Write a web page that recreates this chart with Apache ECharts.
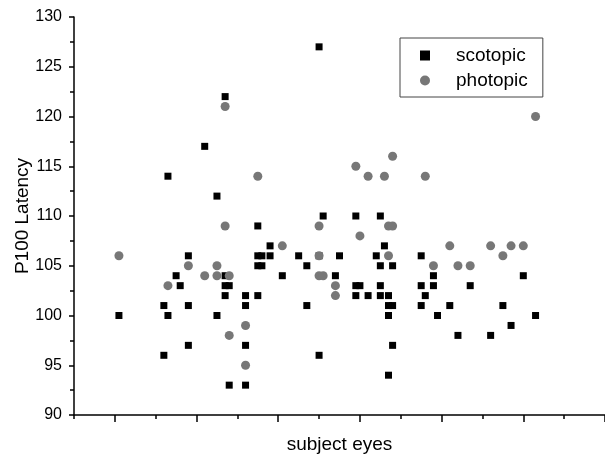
<!DOCTYPE html>
<html>
<head>
<meta charset="utf-8">
<script src="https://cdn.jsdelivr.net/npm/echarts@6/dist/echarts.min.js"></script>
<style>html,body{margin:0;padding:0;background:#fff}#c{width:605px;height:462px}</style>
</head>
<body>
<div id="c"></div>
<script>
// subject-eye index and P100 latency for each series
const scotopicX = [11,22,22,23,23,25,26,28,28,28,32,35,35,37,37,37,37,38,38,42,42,42,42,45,45,45,45,46,46,48,48,51,55,57,57,60,60,60,61,64,65,69,69,69,70,72,74,75,75,75,75,76,77,77,77,77,78,78,78,85,85,85,86,88,88,89,92,94,97,102,105,107,110,113];
const scotopicY = [100,101,96,114,100,104,103,106,101,97,117,112,100,122,104,103,102,103,93,102,101,97,93,109,106,105,102,106,105,107,106,104,106,105,101,127,106,96,110,104,106,110,103,102,103,102,106,110,105,103,102,107,102,101,100,94,105,101,97,106,103,101,102,104,103,100,101,98,103,98,101,99,104,100];
const photopicX = [11,23,28,32,35,35,37,37,38,38,42,42,45,51,60,60,60,61,64,64,69,70,72,76,77,77,78,78,86,88,92,94,97,102,105,107,110,113];
const photopicY = [106,103,105,104,105,104,121,109,104,98,99,95,114,107,109,106,104,104,103,102,115,108,114,114,109,106,116,109,114,105,107,105,105,107,106,107,107,120];
const yTicks = {min: 90, max: 130, interval: 5};
const xMajorTicks = [10, 30, 50, 70, 90, 110, 130];
const seriesNames = ['scotopic', 'photopic'];

const toPairs = (xs, ys) => xs.map((x, i) => [x, ys[i]]);

const chart = echarts.init(document.getElementById('c'), null, {renderer: 'canvas'});
const font = 'Liberation Sans, Arial, sans-serif';
chart.setOption({
  animation: false,
  backgroundColor: '#fff',
  grid: {left: 74, right: 0, top: 17, bottom: 47, containLabel: false, outerBoundsMode: 'none'},
  legend: {
    data: [{name: seriesNames[0], icon: 'rect'}, {name: seriesNames[1], icon: 'circle'}],
    orient: 'vertical',
    left: 400, top: 38,
    borderColor: '#444', borderWidth: 1,
    padding: [8, 15, 7, 20],
    itemGap: 6,
    itemWidth: 10, itemHeight: 10,
    textStyle: {fontFamily: font, fontSize: 19, color: '#000', padding: [0, 0, 0, 21]}
  },
  xAxis: [{
    type: 'value', min: 0, max: 130, interval: 10,
    name: 'subject eyes', nameLocation: 'middle', nameGap: 20,
    nameTextStyle: {fontFamily: font, fontSize: 19, color: '#000'},
    axisLine: {show: true, onZero: false, lineStyle: {color: '#000', width: 1.5}},
    axisTick: {show: true, inside: false, length: 4, lineStyle: {color: '#000', width: 1.5}},
    axisLabel: {show: false},
    splitLine: {show: false}
  }, {
    type: 'value', min: 0, max: 130, interval: 10, position: 'bottom',
    axisLine: {show: false, onZero: false},
    axisTick: {show: true, length: 7, customValues: xMajorTicks, lineStyle: {color: '#000', width: 1.5}},
    axisLabel: {show: false},
    splitLine: {show: false}
  }],
  yAxis: {
    type: 'value', min: yTicks.min, max: yTicks.max, interval: yTicks.interval,
    name: 'P100 Latency', nameLocation: 'middle', nameGap: 42, nameRotate: 90,
    nameMoveOverlap: false,
    nameTextStyle: {fontFamily: font, fontSize: 19, color: '#000'},
    axisLine: {show: true, onZero: false, lineStyle: {color: '#000', width: 1.5}},
    axisTick: {show: true, length: 5, lineStyle: {color: '#000', width: 1.5}},
    minorTick: {show: true, splitNumber: 2, length: 4, lineStyle: {color: '#000', width: 1.5}},
    axisLabel: {fontFamily: font, fontSize: 16, color: '#000', margin: 12},
    splitLine: {show: false}
  },
  series: [{
    name: seriesNames[0], type: 'scatter', xAxisIndex: 0,
    symbol: 'rect', symbolSize: 7,
    itemStyle: {color: '#000', opacity: 1},
    data: toPairs(scotopicX, scotopicY)
  }, {
    name: seriesNames[1], type: 'scatter', xAxisIndex: 0,
    symbol: 'circle', symbolSize: 9,
    itemStyle: {color: '#777', opacity: 1},
    data: toPairs(photopicX, photopicY)
  }]
});
</script>
</body>
</html>
